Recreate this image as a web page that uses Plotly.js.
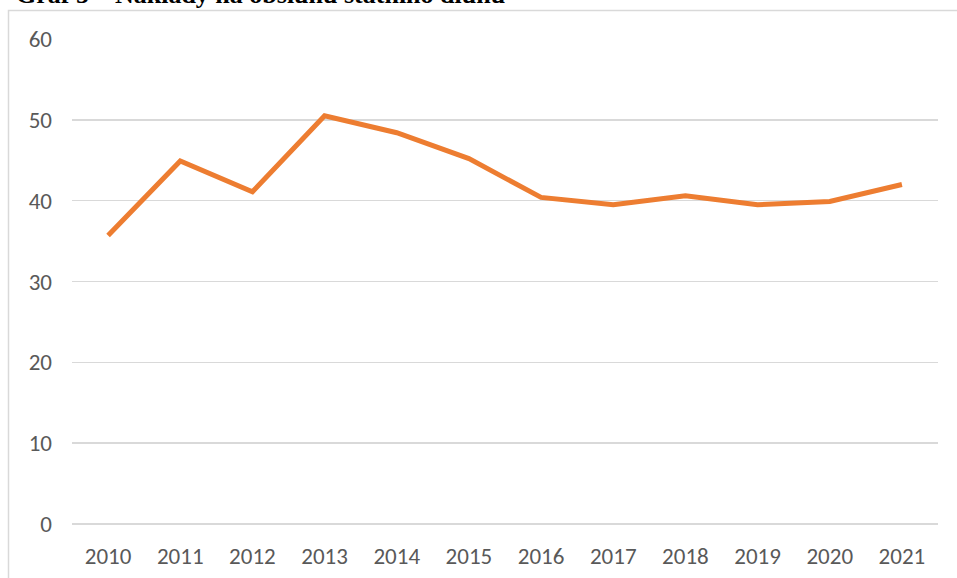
<!DOCTYPE html>
<html>
<head>
<meta charset="utf-8">
<script src="https://cdn.plot.ly/plotly-3.0.1.min.js"></script>
<style>html,body{margin:0;padding:0;background:#fff;}#chart{width:957px;height:578px;}</style>
</head>
<body>
<div id="chart"></div>
<script>
const years = ["2010","2011","2012","2013","2014","2015","2016","2017","2018","2019","2020","2021"];
const costs = [35.7, 44.9, 41.1, 50.5, 48.4, 45.2, 40.4, 39.5, 40.6, 39.5, 39.9, 42.0];
const yTicks = [0, 10, 20, 30, 40, 50, 60];
const titleText = "Graf 5 – Náklady na obsluhu státního dluhu";

const L = 72, R = 19, T = 39, B = 54, W = 957, H = 578;
const pw = W - L - R, ph = H - T - B;
const px = x => (x - L) / pw;
const py = y => 1 - (y - T) / ph;

Plotly.newPlot('chart', [{
  type: 'scatter', mode: 'lines', x: years, y: costs,
  line: {color: '#ED7D31', width: 5},
  hoverinfo: 'x+y'
}], {
  width: W, height: H,
  margin: {l: L, r: R, t: T, b: B, pad: 0},
  paper_bgcolor: '#fff', plot_bgcolor: '#fff',
  showlegend: false,
  xaxis: {type: 'category', range: [-0.5, 11.5], showgrid: false, zeroline: false, showline: false, ticks: '',
          tickfont: {family: 'Carlito, Calibri, "Liberation Sans Narrow", sans-serif', size: 23, color: '#595959'},
          ticklabelstandoff: 16},
  yaxis: {range: [0, 60], tickvals: yTicks, ticktext: yTicks.map(String), showgrid: true,
          gridcolor: '#d9d9d9', gridwidth: 1.5, zeroline: true, zerolinecolor: '#d9d9d9', zerolinewidth: 1.5,
          showline: false, ticks: '',
          tickfont: {family: 'Carlito, Calibri, sans-serif', size: 23, color: '#595959'},
          ticklabelstandoff: 19},
  shapes: [{type: 'rect', xref: 'paper', yref: 'paper', x0: px(8.5), x1: px(970), y0: py(600), y1: py(10.5),
            line: {color: '#d9d9d9', width: 1.5}, fillcolor: 'rgba(0,0,0,0)', layer: 'below'}],
  annotations: [{text: '<b>' + titleText + '</b>', xref: 'paper', yref: 'paper', x: px(15), y: py(10),
                 xanchor: 'left', yanchor: 'bottom', showarrow: false, borderpad: 0,
                 font: {family: '"Liberation Serif", "Times New Roman", serif', size: 26, color: '#000'}}]
}, {displayModeBar: false, staticPlot: true});
</script>
</body>
</html>
